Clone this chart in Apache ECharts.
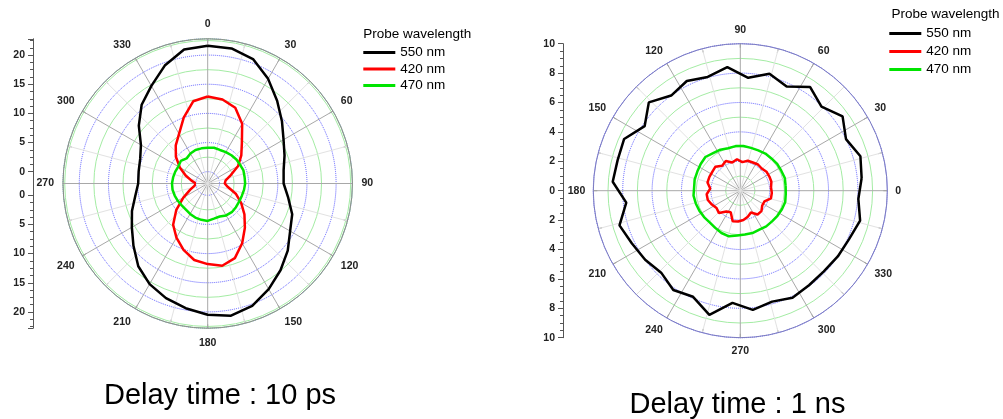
<!DOCTYPE html>
<html><head><meta charset="utf-8">
<script src="https://cdn.jsdelivr.net/npm/echarts@6/dist/echarts.min.js"></script>
<style>html,body{margin:0;padding:0;background:#fff;}#c{width:1003px;height:419px;}</style>
</head><body><div id="c"></div>
<script>
// ---- data ----
const seriesNames = ['550 nm', '420 nm', '470 nm'];
const seriesColors = ['#000000', '#ff0000', '#00e400'];
const angleLabelsLeft = [0, 30, 60, 90, 120, 150, 180, 210, 240, 270, 300, 330];
const angleLabelsRight = [0, 30, 60, 90, 120, 150, 180, 210, 240, 270, 300, 330];
// left chart: Delay time 10 ps (angle clockwise from top)
const anglesLeft = [0,10,20,30,40,50,60,70,80,90,100,110,120,130,140,150,160,170,180,190,200,210,220,230,240,250,260,270,280,290,300,310,320,330,340,350];
const left550 = [21.6,21.5,20.7,18.7,16.5,14.6,13.0,12.0,11.2,11.0,12.0,13.4,14.3,15.9,17.4,18.9,20.3,21.0,20.5,19.7,18.9,17.9,16.5,14.6,13.0,11.8,10.6,9.9,10.0,10.3,11.2,13.4,15.6,17.3,19.5,21.3];
const left420 = [12.9,12.6,11.8,9.8,7.1,5.5,4.0,2.2,1.1,0.9,1.5,3.1,4.6,6.2,7.9,9.8,11.6,12.3,11.8,11.3,10.1,8.7,7.2,5.0,2.8,1.2,0.3,0,0.8,2.0,3.5,5.1,6.5,7.8,10.0,12.3];
const left470 = [4.1,4.2,4.1,4.2,4.3,4.4,4.4,4.5,4.4,4.4,4.3,4.2,4.2,4.3,4.4,4.3,4.0,4.1,4.4,4.3,4.2,4.0,3.8,3.8,3.9,4.0,4.1,4.1,4.0,3.9,3.8,4.0,3.6,3.9,4.1,4.1];
const leftRadiusTicks = [0, 5, 10, 15, 20];
// right chart: Delay time 1 ns (angle counter-clockwise from right)
const anglesRight = [6,16,26,36,46,56,66,76,86,96,106,116,126,136,146,156,166,176,186,196,206,216,226,236,246,256,266,276,286,296,306,316,326,336,346,356];
const right550 = [8.3,8.5,8.0,8.6,7.95,8.5,7.75,8.2,7.7,8.45,8.05,8.3,8.0,8.65,7.85,8.65,8.6,8.7,7.8,8.55,8.2,8.0,7.75,8.15,7.9,8.7,7.65,8.15,7.85,8.1,7.95,7.9,8.0,8.1,8.4,8.05];
const right420 = [2.1,2.2,2.2,2.2,2.1,2.15,2.1,2.1,1.95,2.15,2.0,2.25,2.1,2.35,2.3,2.3,2.3,2.05,2.3,2.3,2.15,2.0,2.1,1.7,1.6,2.15,2.1,2.0,1.85,1.65,2.0,2.0,1.8,1.8,2.15,2.15];
const right470 = [3.1,3.15,3.1,3.1,3.05,3.05,3.0,3.0,3.05,3.05,3.0,3.1,3.15,3.3,3.25,3.2,3.2,3.15,3.2,3.15,3.1,3.05,3.0,3.05,3.15,3.2,3.05,3.0,3.0,2.95,3.0,3.0,3.05,3.1,3.15,3.1];
const rightRadiusTicks = [0, 2, 4, 6, 8, 10];
const titles = ['Delay time : 10 ps', 'Delay time : 1 ns'];
const legendTitle = 'Probe wavelength';

// ---- layout ----
const FONT = 'Liberation Sans, Arial, Helvetica, sans-serif';
const LC = [207.7, 183.5];
const K = 5.83;              // px per unit, left chart
const HOLE = 11.8;           // radius where value 0 sits, left chart
const LMAX = 22.8;
const LOUT = HOLE + LMAX * K;
const RC = [740.3, 190.7];
const ROUT = 147;
const RMAX = 10;

function loop(angles, vals) {
  const d = angles.map((a, i) => [vals[i], a]);
  d.push(d[0].slice());
  return d;
}
const lblStyle = { fontSize: 10.5, fontWeight: 'bold', color: '#222', fontFamily: FONT };

const hiddenAngle = (pi, start, cw) => ({ polarIndex: pi, type: 'value', min: 0, max: 360, startAngle: start, clockwise: cw, show: false });

const option = {
  animation: false,
  backgroundColor: '#fff',
  polar: [
    { center: LC, radius: [0, LOUT] },
    { center: LC, radius: [HOLE, LOUT] },
    { center: LC, radius: [HOLE + 2.5 * K, LOUT] },
    { center: RC, radius: [0, ROUT] }
  ],
  angleAxis: [
    {
      polarIndex: 0, type: 'value', min: 0, max: 360, interval: 30, startAngle: 90, clockwise: true, z: 1,
      axisLine: { show: true, lineStyle: { color: '#8c8c8c', width: 1 } },
      axisTick: { show: true, inside: true, length: 4, lineStyle: { color: '#8c8c8c' } },
      minorTick: { show: true, splitNumber: 2, length: 4, lineStyle: { color: '#8c8c8c' } },
      axisLabel: Object.assign({ margin: 9, formatter: v => (angleLabelsLeft.indexOf(v) >= 0 ? String(v) : '') }, lblStyle),
      splitLine: { show: true, lineStyle: { color: '#a8a8a8', width: 1 } },
      minorSplitLine: { show: true, lineStyle: { color: '#e2e2e2', width: 1 } }
    },
    hiddenAngle(1, 90, true),
    hiddenAngle(2, 90, true),
    {
      polarIndex: 3, type: 'value', min: 0, max: 360, interval: 30, startAngle: 0, clockwise: false, z: 1,
      axisLine: { show: true, lineStyle: { color: '#7c7cc0', width: 1 } },
      axisTick: { show: true, inside: true, length: 4, lineStyle: { color: '#8c8c8c' } },
      minorTick: { show: true, splitNumber: 2, length: 4, lineStyle: { color: '#8c8c8c' } },
      axisLabel: Object.assign({ margin: 8, formatter: v => (angleLabelsRight.indexOf(v) >= 0 ? String(v) : '') }, lblStyle),
      splitLine: { show: true, lineStyle: { color: '#a8a8a8', width: 1 } },
      minorSplitLine: { show: true, lineStyle: { color: '#e2e2e2', width: 1 } }
    }
  ],
  radiusAxis: [
    { polarIndex: 0, type: 'value', min: 0, max: 1, axisLine: { show: false }, axisTick: { show: false }, axisLabel: { show: false }, splitLine: { show: false } },
    { polarIndex: 1, type: 'value', min: 0, max: LMAX, interval: 5, z: 0, axisLine: { show: false }, axisTick: { show: false }, axisLabel: { show: false },
      splitLine: { show: true, lineStyle: { color: '#5b5bff', type: 'dotted', width: 1 } } },
    { polarIndex: 2, type: 'value', min: 0, max: (LOUT - HOLE - 2.5 * K) / K, interval: 5, z: 0, axisLine: { show: false }, axisTick: { show: false }, axisLabel: { show: false },
      splitLine: { show: true, lineStyle: { color: '#a4eca4', width: 1 } } },
    { polarIndex: 3, type: 'value', min: 0, max: RMAX, interval: 2, z: 0, axisLine: { show: false }, axisTick: { show: false }, axisLabel: { show: false },
      minorTick: { show: false, splitNumber: 2 },
      splitLine: { show: true, lineStyle: { color: '#5b5bff', type: 'dotted', width: 1 } },
      minorSplitLine: { show: true, lineStyle: { color: '#a4eca4', width: 1 } } }
  ],
  grid: [
    { left: 33, top: 171.7 - LMAX * K, width: 1, height: LMAX * K, outerBoundsMode: 'none' },
    { left: 33, top: 171.7, width: 1, height: 2 * HOLE, outerBoundsMode: 'none' },
    { left: 33, top: 171.7 + 2 * HOLE, width: 1, height: LMAX * K, outerBoundsMode: 'none' },
    { left: 563, top: RC[1] - ROUT, width: 1, height: 2 * ROUT, outerBoundsMode: 'none' }
  ],
  xAxis: [0, 1, 2, 3].map(i => ({ gridIndex: i, type: 'value', show: false })),
  yAxis: [
    { gridIndex: 0, type: 'value', min: 0, max: LMAX, interval: 5,
      axisLine: { show: true, lineStyle: { color: '#555' } }, axisTick: { show: true, length: 5, lineStyle: { color: '#555' } },
      minorTick: { show: true, splitNumber: 4, length: 3, lineStyle: { color: '#555' } },
      axisLabel: Object.assign({ margin: 8, showMaxLabel: false, formatter: v => (leftRadiusTicks.indexOf(v) >= 0 ? String(v) : '') }, lblStyle), splitLine: { show: false } },
    { gridIndex: 1, type: 'value', min: 0, max: 1, axisLine: { show: true, lineStyle: { color: '#555' } }, axisTick: { show: false }, axisLabel: { show: false }, splitLine: { show: false } },
    { gridIndex: 2, type: 'value', min: 0, max: LMAX, interval: 5, inverse: true,
      axisLine: { show: true, lineStyle: { color: '#555' } }, axisTick: { show: true, length: 5, lineStyle: { color: '#555' } },
      minorTick: { show: true, splitNumber: 4, length: 3, lineStyle: { color: '#555' } },
      axisLabel: Object.assign({ margin: 8, showMaxLabel: false, formatter: v => (leftRadiusTicks.indexOf(v) >= 0 ? String(v) : '') }, lblStyle), splitLine: { show: false } },
    { gridIndex: 3, type: 'value', min: -RMAX, max: RMAX, interval: 2,
      axisLine: { show: true, lineStyle: { color: '#555' } }, axisTick: { show: true, length: 5, lineStyle: { color: '#555' } },
      minorTick: { show: true, splitNumber: 4, length: 3, lineStyle: { color: '#555' } },
      axisLabel: Object.assign({ margin: 8, formatter: v => { const a = Math.abs(v); return rightRadiusTicks.indexOf(a) >= 0 ? String(a) : ''; } }, lblStyle), splitLine: { show: false } }
  ],
  legend: [
    { orient: 'vertical', left: 363.3, top: 45.5, padding: 0, itemWidth: 32, itemHeight: 3, itemGap: 2.5, icon: 'rect',
      data: seriesNames, textStyle: { fontSize: 13.5, color: '#000', fontFamily: FONT }, selectedMode: false },
    { orient: 'vertical', left: 889.3, top: 26.5, padding: 0, itemWidth: 32, itemHeight: 3, itemGap: 4, icon: 'rect',
      data: seriesNames, textStyle: { fontSize: 13.5, color: '#000', fontFamily: FONT }, selectedMode: false }
  ],
  graphic: [
    { type: 'text', x: 363.3, y: 34.3, style: { text: legendTitle, font: '13.5px ' + FONT, fill: '#000', textAlign: 'left', textVerticalAlign: 'middle' } },
    { type: 'text', x: 891.5, y: 14.3, style: { text: legendTitle, font: '13.5px ' + FONT, fill: '#000', textAlign: 'left', textVerticalAlign: 'middle' } },
    { type: 'text', x: 220, y: 396.3, style: { text: titles[0], font: '29px ' + FONT, fill: '#000', textAlign: 'center', textVerticalAlign: 'middle' } },
    { type: 'text', x: 737.5, y: 404.5, style: { text: titles[1], font: '29px ' + FONT, fill: '#000', textAlign: 'center', textVerticalAlign: 'middle' } }
  ],
  series: []
};

const leftVals = [left550, left420, left470];
const rightVals = [right550, right420, right470];
seriesNames.forEach((n, i) => {
  option.series.push({ name: n, type: 'line', coordinateSystem: 'polar', polarIndex: 1, data: loop(anglesLeft, leftVals[i]),
    showSymbol: false, symbol: 'none', smooth: false, z: 5, color: seriesColors[i], lineStyle: { color: seriesColors[i], width: 2.5 } });
});
seriesNames.forEach((n, i) => {
  option.series.push({ name: n, type: 'line', coordinateSystem: 'polar', polarIndex: 3, data: loop(anglesRight, rightVals[i]),
    showSymbol: false, symbol: 'none', smooth: false, z: 5, color: seriesColors[i], lineStyle: { color: seriesColors[i], width: 2.5 } });
});

const chart = echarts.init(document.getElementById('c'), null, { renderer: 'canvas' });
chart.setOption(option);
</script>
</body></html>
